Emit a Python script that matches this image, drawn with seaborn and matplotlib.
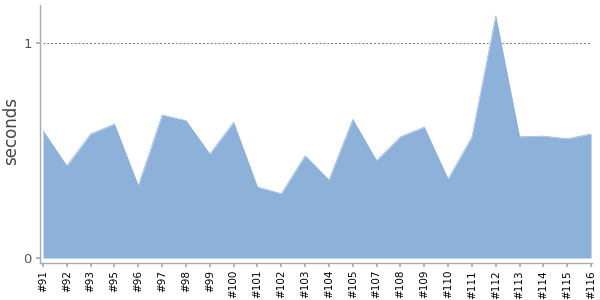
import matplotlib
matplotlib.use("Agg")
import matplotlib.pyplot as plt
import seaborn as sns
import pandas as pd

builds = ["#91", "#92", "#93", "#95", "#96", "#97", "#98", "#99", "#100", "#101",
          "#102", "#103", "#104", "#105", "#107", "#108", "#109", "#110", "#111",
          "#112", "#113", "#114", "#115", "#116"]
seconds = [0.592, 0.429, 0.577, 0.623, 0.336, 0.665, 0.639, 0.484, 0.631, 0.330,
           0.299, 0.476, 0.363, 0.645, 0.453, 0.564, 0.609, 0.367, 0.563,
           1.126, 0.564, 0.567, 0.555, 0.577]
y_ticks = [0, 1]
y_label = "seconds"

sns.set_theme(style="white")
plt.rcParams['font.family'] = ['DejaVu Sans']

df = pd.DataFrame({"pos": list(range(len(builds))), "build": builds, "seconds": seconds})

fig = plt.figure(figsize=(6, 3), dpi=100)
ax = fig.add_axes([40/600, 1-263/300, 552/600, 258/300])

fill = "#8EB1DA"
sns.lineplot(data=df, x="pos", y="seconds", ax=ax, color=fill, linewidth=0.5)
ax.fill_between(df["pos"], 0, df["seconds"], color=fill, linewidth=0)

ax.hlines(1, 0, len(builds)-1, colors="#777777", linestyles=(0, (2, 2)), linewidth=0.7, zorder=0.5)

ax.set_xlim(-0.126, len(builds)-1+0.04)
ax.set_ylim(-0.0233, 1.177)
ax.set_xticks(df["pos"])
ax.set_xticklabels(builds, rotation=90, fontsize=7.5, color="black")
ax.set_yticks(y_ticks)
ax.set_yticklabels([str(t) for t in y_ticks], fontsize=9.5, color="#555555")
ax.set_xlabel("")
ax.set_ylabel(y_label, fontsize=12, color="#444444")
ax.yaxis.set_label_coords(-0.036, (258-126)/258)

for s in ["top", "right"]:
    ax.spines[s].set_visible(False)
for s in ["left", "bottom"]:
    ax.spines[s].set_color("#aaaaaa")
    ax.spines[s].set_linewidth(1.0)
ax.tick_params(axis="x", which="major", bottom=True, length=3, color="#aaaaaa", pad=2)
ax.tick_params(axis="y", which="major", left=True, length=3, color="#aaaaaa", pad=3)

fig.savefig("out.png", dpi=100)
